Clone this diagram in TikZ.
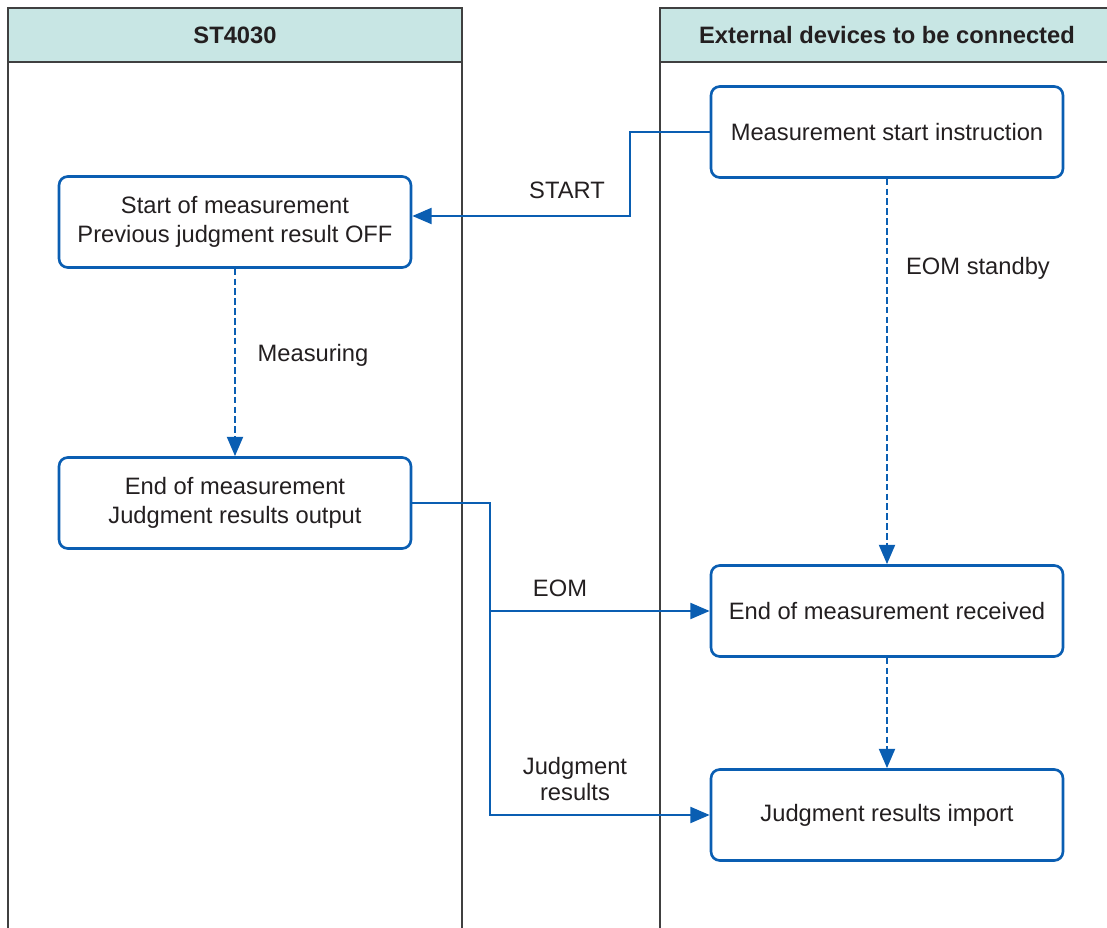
\documentclass[tikz,border=0pt]{standalone}
\usepackage{fontspec}
\setmainfont{Liberation Sans}
\usetikzlibrary{arrows.meta}
\definecolor{laneline}{RGB}{64,64,64}
\definecolor{lanehead}{RGB}{200,230,228}
\definecolor{flowblue}{RGB}{10,94,178}
\definecolor{txt}{RGB}{35,31,32}
\tikzset{
  stepbox/.style={draw=flowblue, line width=1.5pt, rounded corners=5pt,
    minimum width=7.04cm, minimum height=1.82cm, align=center,
    text=txt, font=\fontsize{13.5}{16.5}\selectfont},
  flow/.style={draw=flowblue, line width=1.5pt, -{Triangle[length=11pt,width=9pt]}},
  wait/.style={flow, dash pattern=on 3.8pt off 1.8pt},
  lbl/.style={text=txt, font=\fontsize{13.5}{15}\selectfont, align=center},
  headtxt/.style={text=txt, font=\fontsize{13.5}{16}\selectfont\bfseries}
}
\begin{document}
\begin{tikzpicture}[x=0.02cm, y=-0.02cm]
    \useasboundingbox (0,0) rectangle (1107,928);
    % Lanes
    \fill[lanehead] (8,8) rectangle (462,62);
    \fill[lanehead] (660,8) rectangle (1107,62);
    \draw[laneline, line width=0.6pt] (8,928) -- (8,8) -- (462,8) -- (462,928);
    \draw[laneline, line width=0.6pt] (8,62) -- (462,62);
    \draw[laneline, line width=0.6pt] (660,928) -- (660,8) -- (1107,8);
    \draw[laneline, line width=0.6pt] (660,62) -- (1107,62);
    \node[headtxt] (headL) at (235,35) {ST4030};
    \node[headtxt] (headR) at (887,35) {External devices to be connected};
    % ST4030 side
    \node[stepbox] (meas) at (235,222) {Start of measurement\\Previous judgment result OFF};
    \node[stepbox] (endm) at (235,503) {End of measurement\\Judgment results output};
    % External side
    \node[stepbox] (instr) at (887,132) {Measurement start instruction};
    \node[stepbox] (recv) at (887,611) {End of measurement received};
    \node[stepbox] (imp) at (887,815) {Judgment results import};
    % Signals
    \coordinate (kink) at (630,216);
    \coordinate (split) at (490,611);
    \draw[flow] (instr.west) -| (kink) -- (meas.east |- kink);
    \draw[flow] (endm.east) -| (split) -- (recv.west);
    \draw[flow] (split) |- (imp.west);
    % Waiting
    \draw[wait] (meas.south) -- (endm.north);
    \draw[wait] (instr.south) -- (recv.north);
    \draw[wait] (recv.south) -- (imp.north);
    % Labels
    \node[lbl] (lstart) at (567,190) {START};
    \node[lbl] (lmeas) at (313,355) {Measuring};
    \node[lbl] (lwait) at (978,268) {EOM standby};
    \node[lbl] (leom) at (560,588) {EOM};
    \node[lbl] (ljudge) at (575,779) {Judgment\\results};
\end{tikzpicture}
\end{document}
